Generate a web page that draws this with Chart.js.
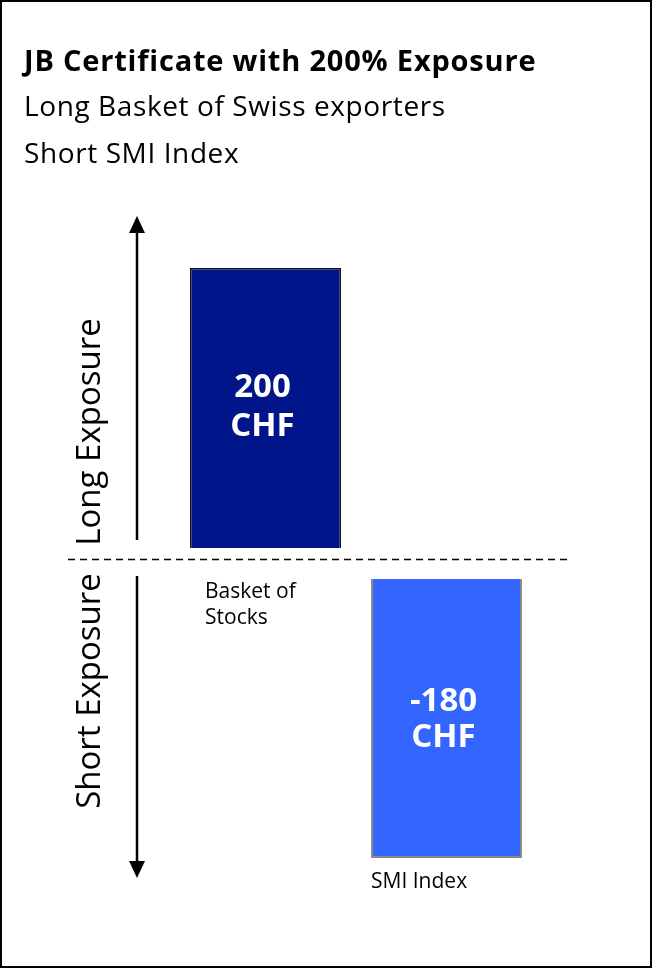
<!DOCTYPE html>
<html>
<head>
<meta charset="utf-8">
<script src="https://cdn.jsdelivr.net/npm/chart.js@4.4.1/dist/chart.umd.min.js"></script>
<style>
  html, body { margin: 0; padding: 0; background: #fff; }
  #wrap { position: relative; width: 652px; height: 968px; overflow: hidden; font-family: "Open Sans", sans-serif; }
  #frame { position: absolute; left: 0; top: 0; right: 0; bottom: 0; border: 2px solid #000; pointer-events: none; }
  #ch { position: absolute; left: 0; top: 0; }
  .hd { position: absolute; left: 24px; white-space: nowrap; color: #000; line-height: 1; }
  #t1 { top: 45px; font-size: 29px; font-weight: 700; letter-spacing: 0.8px; }
  #t2 { top: 91px; font-size: 28px; letter-spacing: 0.6px; }
  #t3 { top: 138px; font-size: 28px; letter-spacing: 0.6px; }
</style>
</head>
<body>
<div id="wrap">
  <canvas id="ch" width="652" height="968"></canvas>
  <div class="hd" id="t1">JB Certificate with 200% Exposure</div>
  <div class="hd" id="t2">Long Basket of Swiss exporters</div>
  <div class="hd" id="t3">Short SMI Index</div>
  <div id="frame"></div>
</div>
<script>
// data
const categories    = ['Basket of Stocks', 'SMI Index'];
const exposureCHF   = [200, -180];
const categoryLines = [['Basket of', 'Stocks'], ['SMI Index']];
const valueUnit     = 'CHF';
const sideLabels    = ['Long Exposure', 'Short Exposure'];

const NAVY = '#00158a';
const BLUE = '#3366ff';

function el(id) { return document.getElementById(id); }

// long leg on its own axis, short leg on its own (schematic, equal-height legs)
const longData  = exposureCHF.map(v => v > 0 ? v : null);
const shortData = exposureCHF.map(v => v < 0 ? v : null);

/* ── decorations: zero line, arrows, side captions, bar text ───── */
const exposureDeco = {
  id: 'exposureDeco',
  afterDatasetsDraw(chart) {
    const { ctx, chartArea } = chart;
    const yL = chart.scales.yLong, yS = chart.scales.yShort;
    const zeroL = yL.getPixelForValue(0);
    const zeroS = yS.getPixelForValue(0);
    const midY = Math.round((zeroL + zeroS) / 2) - 3.5;
    const ax = chartArea.left - 38;

    ctx.save();
    // dashed divider
    ctx.strokeStyle = '#000';
    ctx.lineWidth = 1.3;
    ctx.setLineDash([7, 5]);
    ctx.beginPath();
    ctx.moveTo(chartArea.left - 107, midY);
    ctx.lineTo(chartArea.right + 33, midY);
    ctx.stroke();
    ctx.setLineDash([]);

    // arrows
    ctx.lineWidth = 2.5;
    ctx.fillStyle = '#000';
    const upTip = 216, dnTip = 878;
    ctx.beginPath();
    ctx.moveTo(ax, zeroL - 8); ctx.lineTo(ax, upTip + 10); ctx.stroke();
    ctx.beginPath();
    ctx.moveTo(ax, upTip); ctx.lineTo(ax - 8, upTip + 17); ctx.lineTo(ax + 8, upTip + 17); ctx.closePath(); ctx.fill();
    ctx.beginPath();
    ctx.moveTo(ax, zeroS - 3); ctx.lineTo(ax, dnTip - 10); ctx.stroke();
    ctx.beginPath();
    ctx.moveTo(ax, dnTip); ctx.lineTo(ax - 8, dnTip - 17); ctx.lineTo(ax + 8, dnTip - 17); ctx.closePath(); ctx.fill();

    // side captions
    ctx.font = '33px "Open Sans", sans-serif';
    ctx.textAlign = 'center';
    ctx.textBaseline = 'middle';
    [[sideLabels[0], 432], [sideLabels[1], 691]].forEach(([txt, cy]) => {
      ctx.save();
      ctx.translate(91, cy);
      ctx.rotate(-Math.PI / 2);
      ctx.fillText(txt, 0, 0);
      ctx.restore();
    });

    // value text in bars + category captions below
    chart.data.datasets.forEach((ds, di) => {
      chart.getDatasetMeta(di).data.forEach((bar, i) => {
        const v = ds.data[i];
        if (v == null) return;
        const cy = (bar.y + bar.base) / 2;
        ctx.fillStyle = '#fff';
        ctx.font = 'bold 33px "Open Sans", sans-serif';
        ctx.textAlign = 'center';
        const up = v > 0 ? 20 : 17;
        ctx.fillText(String(v), bar.x - 3, cy - up);
        ctx.fillText(valueUnit, bar.x - 3, cy + 19);

        ctx.fillStyle = '#000';
        ctx.font = '21px "Open Sans", sans-serif';
        ctx.textAlign = 'left';
        const left = bar.x - bar.width / 2;
        const lower = Math.max(bar.y, bar.base);
        const lines = categoryLines[i];
        const x0 = v > 0 ? left + 15 : left;
        const y0 = v > 0 ? lower + 44 : lower + 24;
        lines.forEach((ln, k) => ctx.fillText(ln, x0, y0 + k * 26));
      });
    });
    ctx.restore();
  }
};

const chart = new Chart(el('ch').getContext('2d'), {
  type: 'bar',
  data: {
    labels: categories,
    datasets: [
      {
        label: sideLabels[0],
        data: longData,
        yAxisID: 'yLong',
        backgroundColor: NAVY,
        borderColor: '#111',
        borderWidth: 1.5,
        grouped: false,
        barPercentage: 0.834,
        categoryPercentage: 1
      },
      {
        label: sideLabels[1],
        data: shortData,
        yAxisID: 'yShort',
        backgroundColor: BLUE,
        borderColor: '#8a8a8a',
        borderWidth: 2,
        grouped: false,
        barPercentage: 0.834,
        categoryPercentage: 1
      }
    ]
  },
  options: {
    responsive: false,
    animation: false,
    layout: { padding: { left: 175, right: 115, top: 200, bottom: 68 } },
    plugins: {
      legend: { display: false },
      tooltip: { enabled: false },
      title: { display: false }
    },
    scales: {
      x: { display: false, offset: true },
      yLong:  { display: false, min: -251.43, max: 248.57 },
      yShort: { display: false, min: -207.10, max: 244.52 }
    }
  },
  plugins: [exposureDeco]
});
</script>
</body>
</html>
